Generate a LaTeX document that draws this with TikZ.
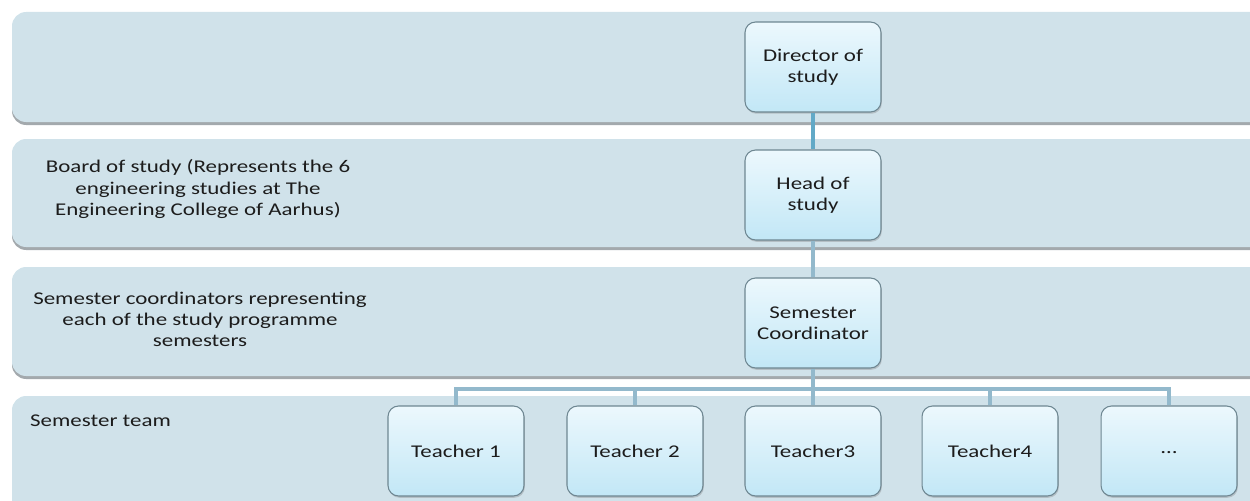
\documentclass[tikz,border=0pt]{standalone}
\usepackage{fontspec}
\setmainfont{Carlito}[FakeStretch=1.28]
\usetikzlibrary{shadows}

\definecolor{bandfill}{HTML}{D0E2EA}
\definecolor{bandshade}{HTML}{A3A9AD}
\definecolor{boxtop}{HTML}{ECF8FD}
\definecolor{boxbot}{HTML}{C2E7F6}
\definecolor{boxline}{HTML}{6E8792}
\definecolor{linkblue}{HTML}{93B9CC}
\definecolor{linkdark}{HTML}{62A9C7}
\definecolor{txt}{HTML}{1C1C1C}

\tikzset{
  role/.style={draw=boxline,line width=0.6pt,rounded corners=6pt,
    top color=boxtop,bottom color=boxbot,minimum width=2.72cm,
    minimum height=1.8cm,align=center,text=txt,
    drop shadow={shadow xshift=0.5pt,shadow yshift=-1pt,opacity=0.35}},
  link/.style={linkblue,line width=2.2pt},
  bandtext/.style={text=txt,align=center}
}

\begin{document}
\begin{tikzpicture}[x=0.02cm,y=-0.02cm,font=\fontsize{10.2pt}{12pt}\selectfont]
\useasboundingbox (0,0) rectangle (1250,500);
\clip (0,0) rectangle (1250,500);
% bands
\foreach \t/\b in {12/122, 139/247, 267/376, 396/520}
  {\fill[bandshade,rounded corners=8pt] (12,\t+3) rectangle (1280,\b+3);
   \fill[bandfill,rounded corners=8pt] (12,\t) rectangle (1280,\b);}
\node[bandtext] (lvl2) at (198,189) {Board of study (Represents the 6\\engineering studies at The\\Engineering College of Aarhus)};
\node[bandtext] (lvl3) at (200,319) {Semester coordinators representing\\each of the study programme\\semesters};
\node[bandtext,anchor=west] (lvl4) at (24,421) {Semester team};
% roles
\node[role] (dir) at (813,67) {Director of\\study};
\node[role] (head) at (813,195) {Head of\\study};
\node[role] (coord) at (813,323) {Semester\\Coordinator};
\foreach \x/\n/\l in {456/t1/Teacher 1, 635/t2/Teacher 2, 813/t3/Teacher3, 990/t4/Teacher4}
  \node[role] (\n) at (\x,451) {\l};
\node[role] (t5) at (1169,451) {\raisebox{-2.5pt}{\ldots}};
% connectors
\coordinate (bus) at (813,389);
\draw[link,linkdark] (dir) -- (head);
\draw[link] (head) -- (coord);
\draw[link] (coord) -- (bus);
\foreach \n in {t1,t2,t3,t4,t5}
  \draw[link] (bus) -| (\n);
\end{tikzpicture}
\end{document}
